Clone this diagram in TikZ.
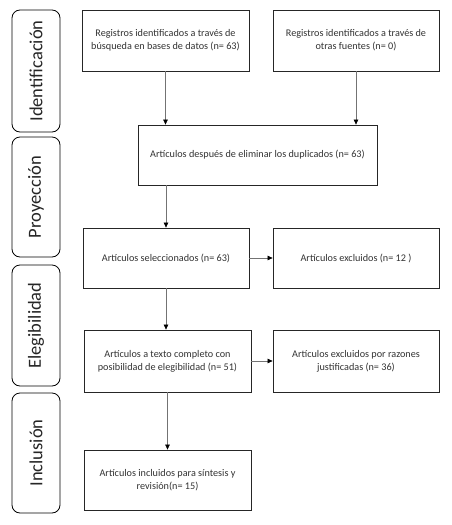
\documentclass[tikz,border=0pt]{standalone}
\usepackage{fontspec}
\setmainfont{Carlito}
\usetikzlibrary{arrows.meta}
\begin{document}
\begin{tikzpicture}[x=1pt,y=-1pt,
  box/.style={draw=black!85,line width=0.8pt,rectangle,align=center,inner sep=3pt,
    text=black!80,font=\fontsize{10.2}{13}\selectfont},
  phase/.style={draw=black,line width=0.8pt,rounded corners=8pt,rectangle,
    minimum width=48pt,text=black!85,font=\fontsize{18.5}{20}\selectfont,rotate=90},
  arr/.style={draw=black!55,line width=0.6pt,-{Triangle[length=5pt,width=4.5pt,color=black]}}]
\useasboundingbox (0,0) rectangle (451,525);
\fill[white] (0,0) rectangle (451,525);
% phase labels
\node[phase,minimum height=48pt,minimum width=122pt] (ident) at (36,71) {Identificación};
\node[phase,minimum height=48pt,minimum width=120pt] (proy) at (36,197) {Proyección};
\node[phase,minimum height=48pt,minimum width=121pt] (eleg) at (36,325.5) {Elegibilidad};
\node[phase,minimum height=48pt,minimum width=120pt] (incl) at (36,453) {Inclusión};
% boxes
\node[box,minimum width=167pt,minimum height=61pt] (b1) at (165.5,40.5) {Registros identificados a través de\\búsqueda en bases de datos (n= 63)};
\node[box,minimum width=166pt,minimum height=61pt] (b2) at (356,40.5) {Registros identificados a través de\\otras fuentes (n= 0)};
\node[box,minimum width=239pt,minimum height=60pt] (b3) at (257.5,155) {Artículos después de eliminar los duplicados (n= 63)};
\node[box,minimum width=166pt,minimum height=60pt] (b4) at (166,258) {Artículos seleccionados (n= 63)};
\node[box,minimum width=166pt,minimum height=60pt] (b5) at (356,258) {Artículos excluidos (n= 12 )};
\node[box,minimum width=167pt,minimum height=62pt] (b6) at (167.5,361) {Artículos a texto completo con\\posibilidad de elegibilidad (n= 51)};
\node[box,minimum width=166pt,minimum height=62pt] (b7) at (356,361) {Artículos excluidos por razones\\justificadas (n= 36)};
\node[box,minimum width=167pt,minimum height=60pt] (b8) at (167.5,480) {Artículos incluidos para síntesis y\\revisión(n= 15)};
% connectors
\draw[arr] (b1.south) -- (b1.south |- b3.north);
\draw[arr] (b2.south) -- (b2.south |- b3.north);
\draw[arr] (b3.south -| b4.north) -- (b4.north);
\draw[arr] (b4.east) -- (b5.west);
\draw[arr] (b4.south) -- (b4.south |- b6.north);
\draw[arr] (b6.east) -- (b7.west);
\draw[arr] (b6.south) -- (b8.north);
\end{tikzpicture}
\end{document}
